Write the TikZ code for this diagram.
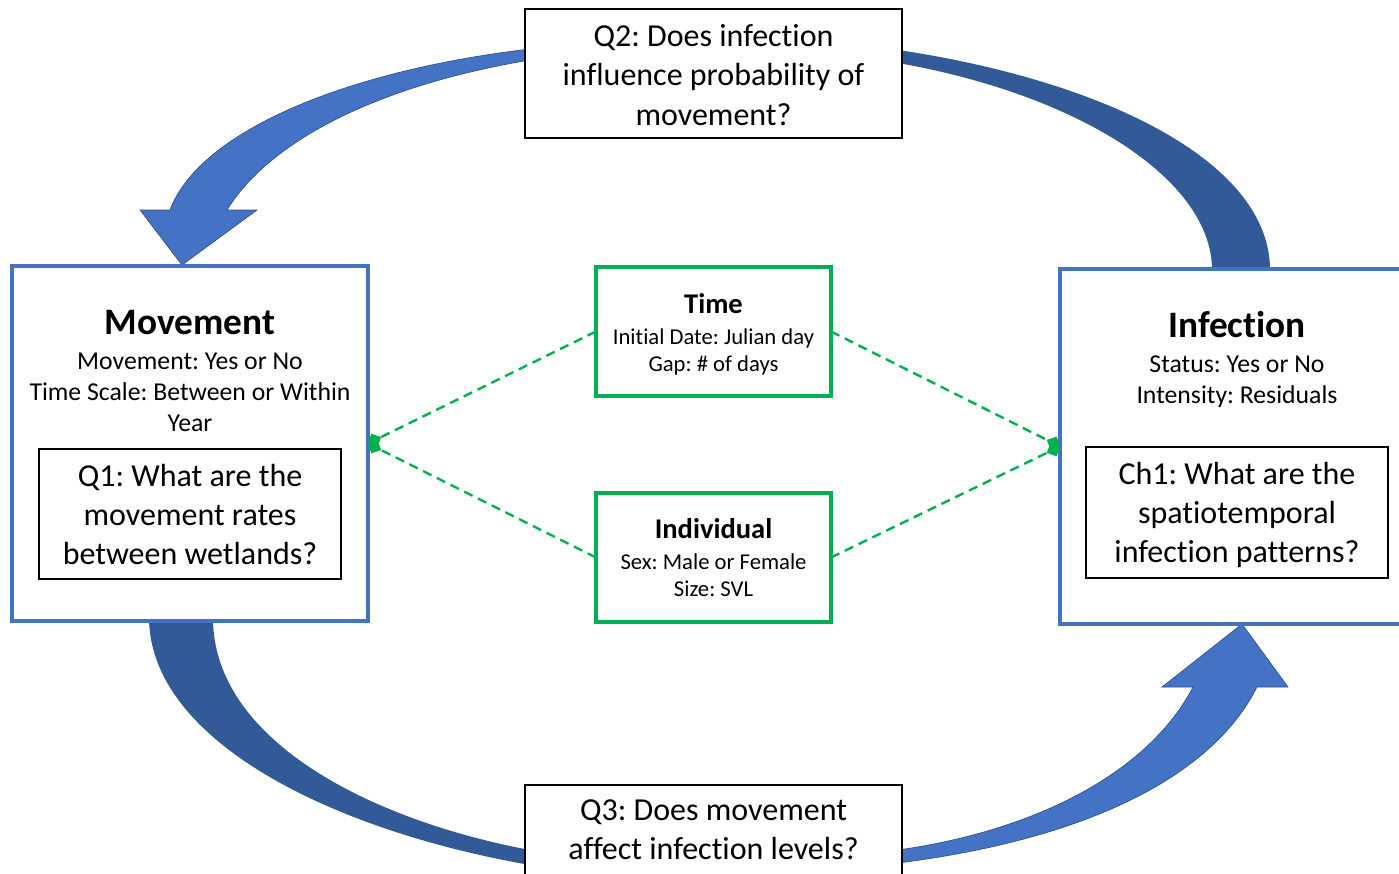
\documentclass[tikz,border=0pt]{standalone}
\usepackage{fontspec}
\setmainfont{Carlito}[Ligatures={NoCommon,NoContextual,NoRequired},Contextuals=NoAlternate]
\frenchspacing
\usetikzlibrary{arrows.meta,fit}
\definecolor{boxblue}{HTML}{4472C4}
\definecolor{arrowdark}{HTML}{335A98}
\definecolor{arrowedge}{HTML}{2F528F}
\definecolor{boxgreen}{HTML}{00B050}
\begin{document}
\begin{tikzpicture}[x=0.75pt,y=-0.75pt,
  bluebox/.style={draw=boxblue,line width=2.5pt,fill=white,inner sep=0pt,outer sep=0pt},
  greenbox/.style={draw=boxgreen,line width=2.4pt,fill=white,inner sep=0pt,outer sep=0pt},
  qbox/.style={draw=black,line width=1.1pt,fill=white,inner sep=0pt,outer sep=0pt},
  lightarrow/.style={fill=boxblue,draw=arrowedge,line width=0.5pt},
  darkarrow/.style={fill=arrowdark},
  conn/.style={draw=boxgreen,line width=1.8pt,dash pattern=on 7pt off 4.5pt,-{Diamond[length=11pt,width=11pt,fill=boxgreen,sep=0pt]}},
  txt/.style={anchor=base,inner sep=0pt,outer sep=0pt},
  qline/.style={txt,font=\fontsize{24}{29}\selectfont},
  ttlbig/.style={txt,font=\fontsize{28}{34}\selectfont\bfseries},
  subbig/.style={txt,font=\fontsize{19.3}{23.5}\selectfont},
  ttlsmall/.style={txt,font=\fontsize{21.4}{26}\selectfont\bfseries},
  subsmall/.style={txt,font=\fontsize{17}{20.7}\selectfont}]
\useasboundingbox (0,0) rectangle (1399,874);
\clip (0,0) rectangle (1399,874);
% curved arrows
\path[lightarrow] (530,49) .. controls (350,70) and (200,130) .. (170,210)
  -- (140,210) -- (182,265) -- (257,210) -- (227,210)
  .. controls (270,140) and (380,85) .. (530,60) -- cycle;
\path[darkarrow] (898,50) .. controls (1100,80) and (1270,160) .. (1270,270)
  -- (1212,270) .. controls (1212,180) and (1080,95) .. (898,63) -- cycle;
\path[darkarrow] (149,618) .. controls (150,740) and (330,830) .. (530,865)
  -- (530,850) .. controls (370,820) and (213,740) .. (213,618) -- cycle;
\path[lightarrow] (898,863) .. controls (1080,840) and (1210,780) .. (1257,687)
  -- (1288,687) -- (1242,624) -- (1162,687) -- (1193,687)
  .. controls (1150,770) and (1040,830) .. (898,850) -- cycle;
% boxes
\node[qbox,fit={(525,9) (902,138)}] (q2) {};
\node[qbox,fit={(525,785) (902,900)}] (q3) {};
\node[bluebox,fit={(12,266) (368,621)}] (mov) {};
\node[bluebox,fit={(1060,269) (1414,624)}] (inf) {};
\node[qbox,fit={(39,449) (341,579)}] (q1) {};
\node[qbox,fit={(1086,447) (1388,578)}] (ch1) {};
\node[greenbox,fit={(596,267) (831,396)}] (time) {};
\node[greenbox,fit={(596,493) (831,622)}] (ind) {};
% texts
\node[qline] (q2a) at (713.5,47) {Q2: Does infection};
\node[qline] (q2b) at (713.5,86) {influence probability of};
\node[qline] (q2c) at (713.5,125) {movement?};
\node[qline] (q3a) at (713.5,820) {Q3: Does movement};
\node[qline] (q3b) at (713.5,859) {affect infection levels?};
\node[ttlbig] (movt) at (190,334) {Movement};
\node[subbig] (mova) at (190,369) {Movement: Yes or No};
\node[subbig] (movb) at (190,400) {Time Scale: Between or Within};
\node[subbig] (movc) at (190,431) {Year};
\node[qline] (q1a) at (190,486) {Q1: What are the};
\node[qline] (q1b) at (190,525) {movement rates};
\node[qline] (q1c) at (190,564) {between wetlands?};
\node[ttlbig] (inft) at (1237,337) {Infection};
\node[subbig] (infa) at (1237,372) {Status: Yes or No};
\node[subbig] (infb) at (1237,403) {Intensity: Residuals};
\node[qline] (ch1a) at (1237,484) {Ch1: What are the};
\node[qline] (ch1b) at (1237,523) {spatiotemporal};
\node[qline] (ch1c) at (1237,562) {infection patterns?};
\node[ttlsmall] (timet) at (713.5,313) {Time};
\node[subsmall] (timea) at (713.5,344) {Initial Date: Julian day};
\node[subsmall] (timeb) at (713.5,371) {Gap: \# of days};
\node[ttlsmall] (indt) at (713.5,538) {Individual};
\node[subsmall] (inda) at (713.5,569) {Sex: Male or Female};
\node[subsmall] (indb) at (713.5,596) {Size: SVL};
% dashed connectors
\draw[conn] (time.west) -- (mov.east);
\draw[conn] (ind.west) -- (mov.east);
\draw[conn] (time.east) -- (inf.west);
\draw[conn] (ind.east) -- (inf.west);
\end{tikzpicture}
\end{document}
